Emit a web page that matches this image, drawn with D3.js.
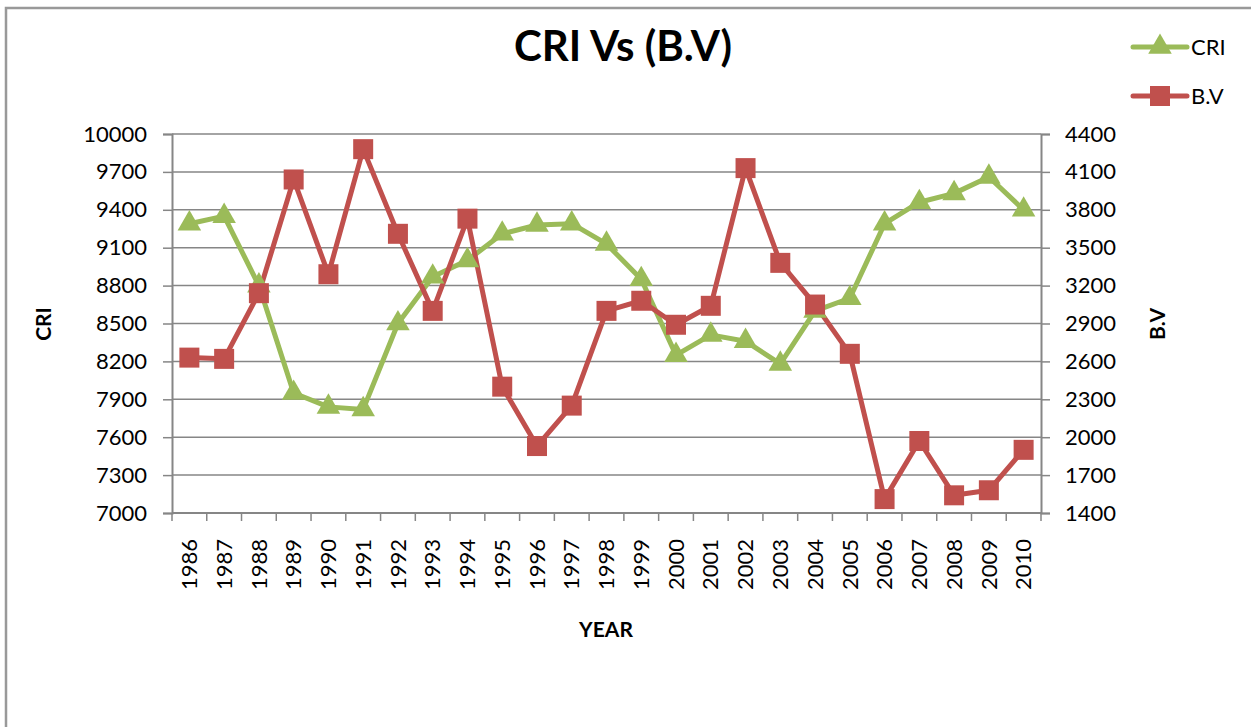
<!DOCTYPE html>
<html>
<head>
<meta charset="utf-8">
<script src="https://cdn.jsdelivr.net/npm/d3@7"></script>
<style>
  body { margin: 0; background: #fff; }
  svg { display: block; font-family: Lato, "Open Sans", sans-serif; }
</style>
</head>
<body>
<div id="container"></div>
<script>
// chart data
const years = ["1986","1987","1988","1989","1990","1991","1992","1993","1994","1995","1996","1997",
  "1998","1999","2000","2001","2002","2003","2004","2005","2006","2007","2008","2009","2010"];
const cri = [9290,9350,8800,7950,7840,7820,8500,8870,9000,9210,9280,9290,
  9130,8850,8250,8410,8360,8180,8600,8700,9290,9460,9530,9660,9400];
const bv = [2630,2620,3140,4040,3290,4280,3610,3000,3730,2400,1930,2250,
  3000,3080,2890,3040,4130,3380,3050,2660,1510,1970,1540,1580,1900];
const leftTicks = [7000,7300,7600,7900,8200,8500,8800,9100,9400,9700,10000];
const rightTicks = [1400,1700,2000,2300,2600,2900,3200,3500,3800,4100,4400];

const width = 1251, height = 727;
const plot = { left: 172, right: 1041, top: 134, bottom: 513 };
const green = "#9BBB59", red = "#C0504D", gridCol = "#868686";

const svg = d3.select("#container").append("svg")
  .attr("width", width).attr("height", height);

// outer chart border
svg.append("rect")
  .attr("x", 6).attr("y", 8).attr("width", width + 10).attr("height", height + 10)
  .attr("fill", "none").attr("stroke", "#999").attr("stroke-width", 2.5);

const x = d3.scaleBand().domain(years).range([plot.left, plot.right]);
const yL = d3.scaleLinear().domain([7000, 10000]).range([plot.bottom, plot.top]);
const yR = d3.scaleLinear().domain([1400, 4400]).range([plot.bottom, plot.top]);

// horizontal gridlines
svg.append("g").selectAll("line").data(leftTicks).join("line")
  .attr("x1", plot.left).attr("x2", plot.right)
  .attr("y1", d => yL(d)).attr("y2", d => yL(d))
  .attr("stroke", gridCol).attr("stroke-width", 1.5);

// left axis
const axL = svg.append("g").attr("transform", `translate(${plot.left},0)`)
  .call(d3.axisLeft(yL).tickValues(leftTicks).tickSize(9).tickPadding(16).tickFormat(d3.format("d")));
// right axis
const axR = svg.append("g").attr("transform", `translate(${plot.right},0)`)
  .call(d3.axisRight(yR).tickValues(rightTicks).tickSize(9).tickPadding(15).tickFormat(d3.format("d")));
// bottom axis with ticks at band edges
const axB = svg.append("g").attr("transform", `translate(0,${plot.bottom})`)
  .call(d3.axisBottom(x).tickSize(0).tickPadding(0));
axB.selectAll(".tick text")
  .attr("transform", "rotate(-90)")
  .attr("text-anchor", "end")
  .attr("x", -26).attr("y", 0).attr("dy", "0.35em");
axB.append("g").selectAll("line").data(years.concat(["end"])).join("line")
  .attr("x1", (d, i) => plot.left + i * x.step()).attr("x2", (d, i) => plot.left + i * x.step())
  .attr("y1", 0).attr("y2", 8)
  .attr("stroke", gridCol).attr("stroke-width", 1.5);

[axL, axR, axB].forEach(a => {
  a.select(".domain").attr("stroke", gridCol).attr("stroke-width", 2);
  a.selectAll(".tick line").attr("stroke", gridCol).attr("stroke-width", 1.5);
  a.selectAll(".tick text").attr("font-size", 22).attr("fill", "#000")
    .attr("font-family", "Lato, 'Open Sans', sans-serif");
});
axB.select(".domain").attr("d", `M${plot.left},0H${plot.right}`);

const cx = d => x(d) + x.bandwidth() / 2;

// CRI line
svg.append("path").datum(cri)
  .attr("fill", "none").attr("stroke", green).attr("stroke-width", 5).attr("stroke-linejoin", "round")
  .attr("d", d3.line().x((d, i) => cx(years[i])).y(d => yL(d)));
// B.V line
svg.append("path").datum(bv)
  .attr("fill", "none").attr("stroke", red).attr("stroke-width", 5).attr("stroke-linejoin", "round")
  .attr("d", d3.line().x((d, i) => cx(years[i])).y(d => yR(d)));

const tri = d3.symbol().type(d3.symbolTriangle).size(240);
const sq = d3.symbol().type(d3.symbolSquare).size(400);

svg.append("g").selectAll("path").data(cri).join("path")
  .attr("d", tri())
  .attr("transform", (d, i) => `translate(${cx(years[i])},${yL(d)})`)
  .attr("fill", green);
svg.append("g").selectAll("path").data(bv).join("path")
  .attr("d", sq())
  .attr("transform", (d, i) => `translate(${cx(years[i])},${yR(d)})`)
  .attr("fill", red);

// title
svg.append("text").attr("x", 623).attr("y", 61)
  .attr("text-anchor", "middle").attr("font-size", 42).attr("font-weight", "bold")
  .text("CRI Vs (B.V)");

// axis titles
svg.append("text").attr("transform", "translate(51,324) rotate(-90)")
  .attr("text-anchor", "middle").attr("font-size", 21).attr("font-weight", "bold").text("CRI");
svg.append("text").attr("transform", "translate(1165,324) rotate(-90)")
  .attr("text-anchor", "middle").attr("font-size", 21).attr("font-weight", "bold").text("B.V");
svg.append("text").attr("x", 606).attr("y", 637)
  .attr("text-anchor", "middle").attr("font-size", 21).attr("font-weight", "bold").text("YEAR");

// legend
const legend = [
  { name: "CRI", color: green, sym: tri, y: 47 },
  { name: "B.V", color: red, sym: sq, y: 96 }
];
const lg = svg.append("g").selectAll("g").data(legend).join("g")
  .attr("transform", d => `translate(1133,${d.y})`);
lg.append("line").attr("x1", 0).attr("x2", 54)
  .attr("stroke", d => d.color).attr("stroke-width", 5).attr("stroke-linecap", "round");
lg.append("path").attr("d", d => d.sym()).attr("transform", "translate(27,0)").attr("fill", d => d.color);
lg.append("text").attr("x", 58).attr("dy", "0.35em").attr("font-size", 22).text(d => d.name);
</script>
</body>
</html>
